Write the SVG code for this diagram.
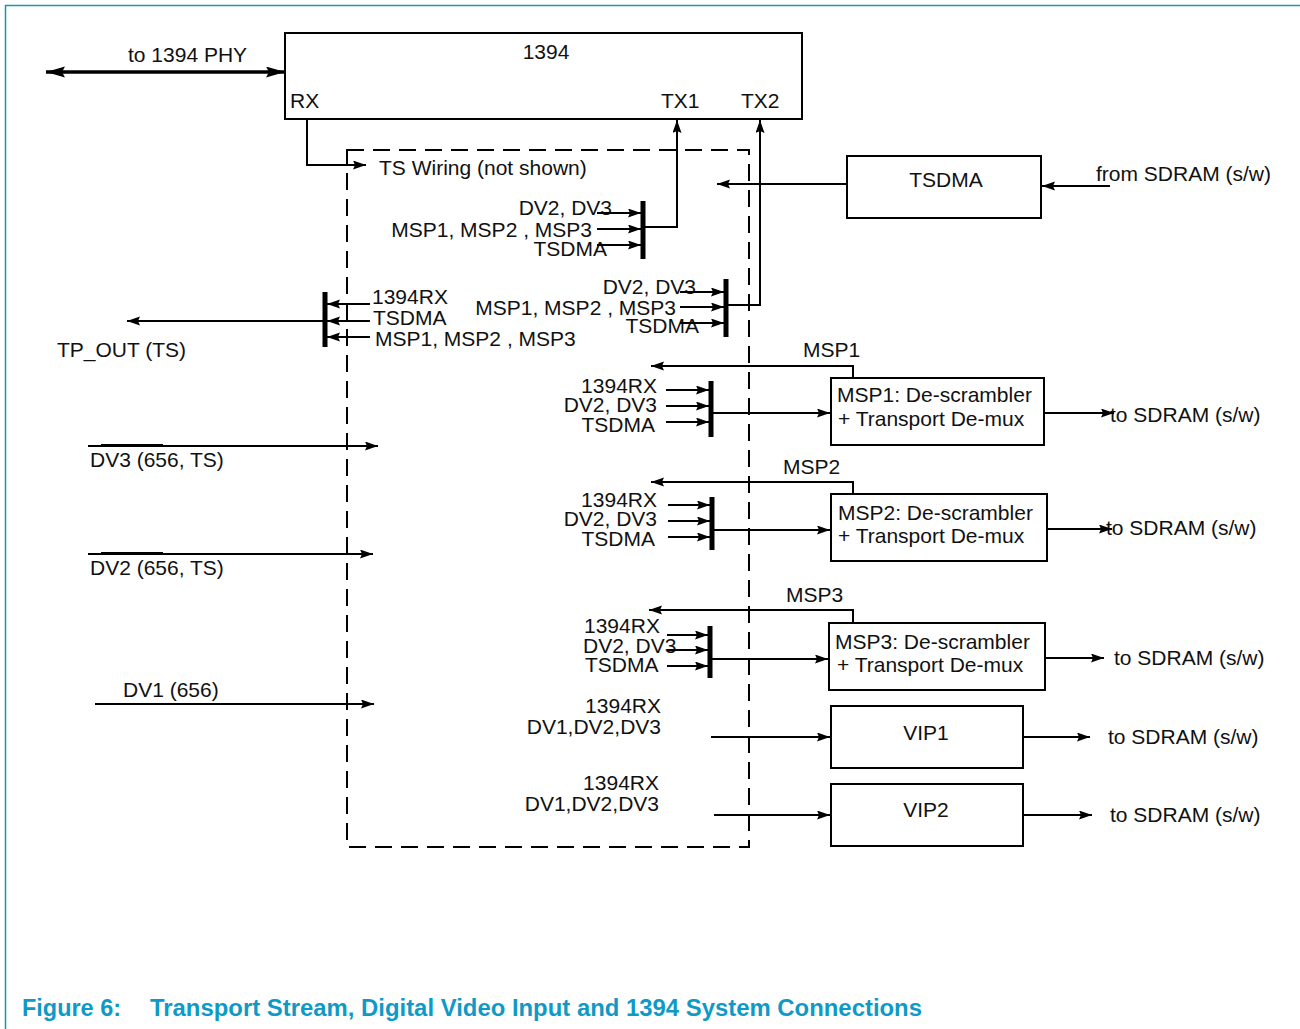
<svg xmlns="http://www.w3.org/2000/svg" width="1300" height="1029" viewBox="0 0 1300 1029">
<defs>
<style>
text{font-family:"Liberation Sans",Arial,sans-serif;font-size:21px;fill:#111}
.e{text-anchor:end}
.m{text-anchor:middle}
.ln{fill:none;stroke:#000;stroke-width:2}
.ar{fill:none;stroke:#000;stroke-width:2;marker-end:url(#ah)}
.bx{fill:#fff;stroke:#000;stroke-width:2}
.bar{fill:none;stroke:#000;stroke-width:5}
.cap{font-weight:bold;font-size:23px;fill:#0f9ac6}
</style>
<marker id="ah" markerUnits="userSpaceOnUse" markerWidth="14" markerHeight="10" refX="13" refY="4.5" orient="auto">
<path d="M0,0 L13,4.5 L0,9 L2,4.5 z" fill="#000"/>
</marker>
<marker id="big" markerUnits="userSpaceOnUse" markerWidth="20" markerHeight="12" refX="19" refY="5.5" orient="auto-start-reverse">
<path d="M0,0 L19,5.5 L0,11 L3,5.5 z" fill="#000"/>
</marker>
</defs>

<g id="frame">
<line x1="5" y1="5.5" x2="1300" y2="5.5" stroke="#1596b5" stroke-width="1.5"/>
<line x1="5.5" y1="5" x2="5.5" y2="1029" stroke="#1596b5" stroke-width="1.5"/>
</g>

<g id="tswiring">
<rect x="347" y="150" width="402" height="697" fill="none" stroke="#000" stroke-width="2" stroke-dasharray="17,9"/>
<text x="379" y="175">TS Wiring (not shown)</text>
</g>

<g id="n1394">
<rect class="bx" x="285" y="33" width="517" height="86"/>
<text class="m" x="546" y="59">1394</text>
<text x="290" y="108">RX</text>
<text x="661" y="108">TX1</text>
<text x="741" y="108">TX2</text>
</g>

<g id="tsdma">
<rect class="bx" x="847" y="156" width="194" height="62"/>
<text class="m" x="946" y="187">TSDMA</text>
</g>

<g id="msp1">
<rect class="bx" x="831" y="378" width="213" height="67"/>
<text x="837" y="402">MSP1: De-scrambler</text>
<text x="838" y="426">+ Transport De-mux</text>
</g>

<g id="msp2">
<rect class="bx" x="831" y="494" width="216" height="67"/>
<text x="838" y="520">MSP2: De-scrambler</text>
<text x="838" y="543">+ Transport De-mux</text>
</g>

<g id="msp3">
<rect class="bx" x="829" y="623" width="216" height="67"/>
<text x="835" y="649">MSP3: De-scrambler</text>
<text x="837" y="672">+ Transport De-mux</text>
</g>

<g id="vip1">
<rect class="bx" x="831" y="706" width="192" height="62"/>
<text class="m" x="926" y="740">VIP1</text>
</g>

<g id="vip2">
<rect class="bx" x="831" y="784" width="192" height="62"/>
<text class="m" x="926" y="817">VIP2</text>
</g>

<g id="mux-tx1">
<line class="bar" x1="643" y1="201" x2="643" y2="259"/>
<text class="e" x="612" y="215">DV2, DV3</text>
<text class="e" x="592" y="237">MSP1, MSP2 , MSP3</text>
<text class="e" x="607" y="256">TSDMA</text>
</g>

<g id="mux-tx2">
<line class="bar" x1="726" y1="279" x2="726" y2="337"/>
<text class="e" x="696" y="294">DV2, DV3</text>
<text class="e" x="676" y="315">MSP1, MSP2 , MSP3</text>
<text class="e" x="699" y="333">TSDMA</text>
</g>

<g id="mux-tpout">
<line class="bar" x1="325" y1="292" x2="325" y2="347"/>
<text x="372" y="304">1394RX</text>
<text x="373" y="325">TSDMA</text>
<text x="375" y="346">MSP1, MSP2 , MSP3</text>
<text x="57" y="357">TP_OUT (TS)</text>
</g>

<g id="mux-msp1">
<line class="bar" x1="711" y1="381" x2="711" y2="437"/>
<text class="e" x="657" y="393">1394RX</text>
<text class="e" x="657" y="412">DV2, DV3</text>
<text class="e" x="655" y="432">TSDMA</text>
<text x="803" y="357">MSP1</text>
</g>

<g id="mux-msp2">
<line class="bar" x1="712" y1="497" x2="712" y2="550"/>
<text class="e" x="657" y="507">1394RX</text>
<text class="e" x="657" y="526">DV2, DV3</text>
<text class="e" x="655" y="546">TSDMA</text>
<text x="783" y="474">MSP2</text>
</g>

<g id="mux-msp3">
<line class="bar" x1="710" y1="626" x2="710" y2="678"/>
<text x="584" y="633">1394RX</text>
<text x="583" y="653">DV2, DV3</text>
<text x="585" y="672">TSDMA</text>
<text x="786" y="602">MSP3</text>
</g>

<g id="labels">
<text x="128" y="62">to 1394 PHY</text>
<text x="1096" y="181">from SDRAM (s/w)</text>
<text x="1110" y="422">to SDRAM (s/w)</text>
<text x="1106" y="535">to SDRAM (s/w)</text>
<text x="1114" y="665">to SDRAM (s/w)</text>
<text x="1108" y="744">to SDRAM (s/w)</text>
<text x="1110" y="822">to SDRAM (s/w)</text>
<text x="90" y="467">DV3 (656, TS)</text>
<text x="90" y="575">DV2 (656, TS)</text>
<text x="123" y="697">DV1 (656)</text>
<text class="e" x="661" y="713">1394RX</text>
<text class="e" x="661" y="734">DV1,DV2,DV3</text>
<text class="e" x="659" y="790">1394RX</text>
<text class="e" x="659" y="811">DV1,DV2,DV3</text>
</g>

<g id="connectors">
<line x1="46" y1="72" x2="285" y2="72" stroke="#000" stroke-width="3.5" marker-start="url(#big)" marker-end="url(#big)"/>
<polyline class="ar" points="307,119 307,165 366,165"/>
<!-- TX1 -->
<line class="ar" x1="597" y1="213" x2="641" y2="213"/>
<line class="ar" x1="597" y1="229" x2="641" y2="229"/>
<line class="ar" x1="597" y1="245" x2="641" y2="245"/>
<polyline class="ar" points="645,227 677,227 677,120"/>
<!-- TX2 -->
<line class="ar" x1="680" y1="292" x2="724" y2="292"/>
<line class="ar" x1="680" y1="307" x2="724" y2="307"/>
<line class="ar" x1="680" y1="323" x2="724" y2="323"/>
<polyline class="ar" points="728,305 760,305 760,120"/>
<!-- TSDMA -->
<line class="ar" x1="847" y1="184" x2="717" y2="184"/>
<line class="ar" x1="1110" y1="186" x2="1042" y2="186"/>
<!-- TP_OUT -->
<line class="ar" x1="370" y1="304" x2="327" y2="304"/>
<line class="ar" x1="370" y1="321" x2="327" y2="321"/>
<line class="ar" x1="370" y1="337" x2="327" y2="337"/>
<line class="ar" x1="323" y1="321" x2="127" y2="321"/>
<!-- MSP1 -->
<polyline class="ar" points="853,378 853,366 651,366"/>
<line class="ar" x1="666" y1="390" x2="709" y2="390"/>
<line class="ar" x1="666" y1="406" x2="709" y2="406"/>
<line class="ar" x1="666" y1="422" x2="709" y2="422"/>
<line class="ar" x1="713" y1="413" x2="830" y2="413"/>
<line class="ar" x1="1044" y1="413" x2="1114" y2="413"/>
<!-- MSP2 -->
<polyline class="ar" points="853,494 853,482 651,482"/>
<line class="ar" x1="668" y1="505" x2="710" y2="505"/>
<line class="ar" x1="668" y1="521" x2="710" y2="521"/>
<line class="ar" x1="668" y1="537" x2="710" y2="537"/>
<line class="ar" x1="714" y1="530" x2="830" y2="530"/>
<line class="ar" x1="1047" y1="529" x2="1112" y2="529"/>
<!-- MSP3 -->
<polyline class="ar" points="853,623 853,610 649,610"/>
<line class="ar" x1="667" y1="635" x2="708" y2="635"/>
<line class="ar" x1="667" y1="650" x2="708" y2="650"/>
<line class="ar" x1="667" y1="666" x2="708" y2="666"/>
<line class="ar" x1="712" y1="659" x2="828" y2="659"/>
<line class="ar" x1="1045" y1="658" x2="1104" y2="658"/>
<!-- VIP -->
<line class="ar" x1="711" y1="737" x2="830" y2="737"/>
<line class="ar" x1="1023" y1="737" x2="1090" y2="737"/>
<line class="ar" x1="714" y1="815" x2="830" y2="815"/>
<line class="ar" x1="1023" y1="815" x2="1092" y2="815"/>
<!-- DV inputs -->
<line class="ar" x1="88" y1="446" x2="378" y2="446"/>
<line x1="101" y1="445" x2="163" y2="445" stroke="#000" stroke-width="2"/>
<line class="ar" x1="88" y1="554" x2="373" y2="554"/>
<line x1="101" y1="553" x2="163" y2="553" stroke="#000" stroke-width="2"/>
<line class="ar" x1="95" y1="704" x2="374" y2="704"/>
</g>

<g id="caption">
<text class="cap" x="22" y="1016" textLength="99" lengthAdjust="spacingAndGlyphs">Figure 6:</text>
<text class="cap" x="150" y="1016" textLength="772" lengthAdjust="spacingAndGlyphs">Transport Stream, Digital Video Input and 1394 System Connections</text>
</g>
</svg>
